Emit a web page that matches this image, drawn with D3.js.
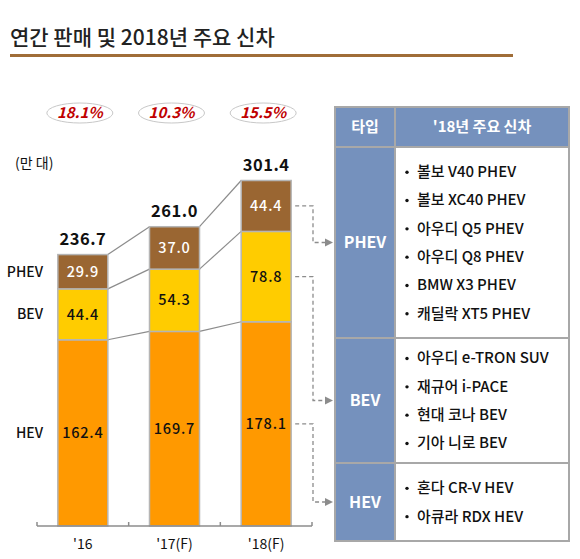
<!DOCTYPE html>
<html><head><meta charset="utf-8">
<script src="https://cdn.jsdelivr.net/npm/d3@7"></script>
<style>
html,body{margin:0;padding:0;background:#fff;}
svg{display:block;font-family:"Noto Sans CJK KR","Noto Sans",sans-serif;}
</style></head>
<body><svg id="c" width="580" height="559"></svg>
<script>
const title = "연간 판매 및 2018년 주요 신차";
const unitLabel = "(만 대)";
const categories = ["'16", "'17(F)", "'18(F)"];
const seriesNames = ["HEV", "BEV", "PHEV"];
const hevValues = [162.4, 169.7, 178.1];
const bevValues = [44.4, 54.3, 78.8];
const phevValues = [29.9, 37.0, 44.4];
const totals = ["236.7", "261.0", "301.4"];
const growthRates = ["18.1%", "10.3%", "15.5%"];
const tableHeaders = ["타입", "'18년 주요 신차"];
const phevModels = ["볼보 V40 PHEV", "볼보 XC40 PHEV", "아우디 Q5 PHEV", "아우디 Q8 PHEV", "BMW X3 PHEV", "캐딜락 XT5 PHEV"];
const bevModels = ["아우디 e-TRON SUV", "재규어 i-PACE", "현대 코나 BEV", "기아 니로 BEV"];
const hevModels = ["혼다 CR-V HEV", "아큐라 RDX HEV"];

(function () {
const colors = {HEV: "#ff9900", BEV: "#ffcc00", PHEV: "#9a6632"};
const labelColors = {HEV: "#111", BEV: "#111", PHEV: "#fff"};
const valuesBy = {HEV: hevValues, BEV: bevValues, PHEV: phevValues};

const svg = d3.select("#c");

// Title
svg.append("text").attr("x", 10).attr("y", 45).attr("font-size", 21).attr("font-weight", 500)
  .attr("fill", "#222").text(title);
svg.append("rect").attr("x", 10).attr("y", 54).attr("width", 503).attr("height", 3).attr("fill", "#a06d38");

// Scales
const x = d3.scaleBand().domain(categories).range([37, 312]).padding(0);
const barW = 50;
const y = d3.scaleLinear().domain([0, 300]).range([526, 182]);

const rowsData = categories.map((c, i) => {
  const o = {cat: c};
  seriesNames.forEach(s => o[s] = valuesBy[s][i]);
  return o;
});
const stack = d3.stack().keys(seriesNames)(rowsData);

const bx = c => x(c) + x.bandwidth() / 2 - barW / 2;

// Connecting lines between bars
stack.forEach(layer => {
  for (let i = 0; i < categories.length - 1; i++) {
    svg.append("line")
      .attr("x1", bx(categories[i]) + barW).attr("y1", y(layer[i][1]))
      .attr("x2", bx(categories[i + 1])).attr("y2", y(layer[i + 1][1]))
      .attr("stroke", "#8c8c8c").attr("stroke-width", 1.2);
  }
});

// Bars
stack.forEach(layer => {
  const key = layer.key;
  svg.append("g").selectAll("rect").data(layer).join("rect")
    .attr("x", (d, i) => bx(categories[i]))
    .attr("y", d => y(d[1]))
    .attr("width", barW)
    .attr("height", d => y(d[0]) - y(d[1]))
    .attr("fill", colors[key])
    .attr("stroke", "#b5b5b5").attr("stroke-width", 1.5);
  svg.append("g").selectAll("text").data(layer).join("text")
    .attr("x", (d, i) => bx(categories[i]) + barW / 2)
    .attr("y", d => (y(d[0]) + y(d[1])) / 2)
    .attr("dy", "0.36em")
    .attr("text-anchor", "middle").attr("font-size", 14.5).attr("font-weight", 500)
    .attr("letter-spacing", 0.8)
    .attr("fill", labelColors[key])
    .text((d, i) => valuesBy[key][i].toFixed(1));
});

// Totals
const topLayer = stack[stack.length - 1];
svg.append("g").selectAll("text").data(topLayer).join("text")
  .attr("x", (d, i) => bx(categories[i]) + barW / 2)
  .attr("y", d => y(d[1]) - 10)
  .attr("text-anchor", "middle").attr("font-size", 16.5).attr("font-weight", 700)
  .attr("letter-spacing", 0.5)
  .attr("fill", "#111").text((d, i) => totals[i]);

// Series labels on left aligned with first bar
stack.forEach(layer => {
  const d = layer[0];
  svg.append("text").attr("x", 43).attr("y", (y(d[0]) + y(d[1])) / 2).attr("dy", "0.36em")
    .attr("text-anchor", "end").attr("font-size", 14).attr("font-weight", 500).attr("fill", "#111")
    .text(layer.key);
});

svg.append("text").attr("x", 15).attr("y", 168).attr("font-size", 14).attr("fill", "#111").text(unitLabel);

// Growth ellipses
categories.forEach((c, i) => {
  const cx = x(c) + x.bandwidth() / 2 - 3;
  svg.append("ellipse").attr("cx", cx).attr("cy", 113).attr("rx", 33).attr("ry", 10)
    .attr("fill", "#fff").attr("stroke", "#c8c8c8").attr("stroke-width", 1);
  svg.append("text").attr("x", cx).attr("y", 113).attr("dy", "0.36em").attr("text-anchor", "middle")
    .attr("font-size", 15).attr("font-weight", 700).attr("font-style", "italic")
    .attr("fill", "#c00000").text(growthRates[i]);
});

// Axis
const axisY = 526;
const ax = svg.append("g").attr("stroke", "#8c8c8c").attr("stroke-width", 1.5);
ax.append("line").attr("x1", 37).attr("x2", 312).attr("y1", axisY).attr("y2", axisY);
const tickXs = categories.map(c => x(c)).concat([x(categories[categories.length - 1]) + x.bandwidth()]);
tickXs.forEach(t => ax.append("line").attr("x1", t).attr("x2", t).attr("y1", axisY - 4).attr("y2", axisY));
categories.forEach(c => {
  svg.append("text").attr("x", x(c) + x.bandwidth() / 2).attr("y", 549).attr("text-anchor", "middle")
    .attr("font-size", 14).attr("fill", "#111").text(c);
});

// Table
const tx0 = 335, tx1 = 395, tx2 = 569;
const headTop = 107, headBot = 147;
const rows = [
  {name: "PHEV", items: phevModels, h: 191},
  {name: "BEV", items: bevModels, h: 125},
  {name: "HEV", items: hevModels, h: 78}
];
const blue = "#7591bd", border = "#a8a8a8";
svg.append("rect").attr("x", tx0).attr("y", headTop).attr("width", tx2 - tx0).attr("height", headBot - headTop).attr("fill", blue);
svg.append("text").attr("x", (tx0 + tx1) / 2).attr("y", (headTop + headBot) / 2).attr("dy", "0.36em")
  .attr("text-anchor", "middle").attr("font-size", 15).attr("font-weight", 700).attr("fill", "#fff").text(tableHeaders[0]);
svg.append("text").attr("x", (tx1 + tx2) / 2).attr("y", (headTop + headBot) / 2).attr("dy", "0.36em")
  .attr("text-anchor", "middle").attr("font-size", 15).attr("font-weight", 700).attr("fill", "#fff").text(tableHeaders[1]);

let rowTop = headBot;
const step = 28.3;
const rowMids = {};
rows.forEach(r => {
  const bot = rowTop + r.h;
  svg.append("rect").attr("x", tx0).attr("y", rowTop).attr("width", tx1 - tx0).attr("height", r.h).attr("fill", blue);
  svg.append("rect").attr("x", tx1).attr("y", rowTop).attr("width", tx2 - tx1).attr("height", r.h).attr("fill", "#fff");
  const mid = (rowTop + bot) / 2;
  rowMids[r.name] = mid;
  svg.append("text").attr("x", (tx0 + tx1) / 2).attr("y", mid).attr("dy", "0.36em")
    .attr("text-anchor", "middle").attr("font-size", 16).attr("font-weight", 700).attr("fill", "#fff").text(r.name);
  const n = r.items.length;
  const first = mid - (n - 1) * step / 2;
  r.items.forEach((it, j) => {
    const yy = first + j * step;
    svg.append("circle").attr("cx", 407).attr("cy", yy + 0.5).attr("r", 1.7).attr("fill", "#111");
    svg.append("text").attr("x", 417).attr("y", yy).attr("dy", "0.36em").attr("font-size", 15)
      .attr("font-weight", 500).attr("fill", "#111").text(it);
  });
  rowTop = bot;
});
// table borders
const bg = svg.append("g").attr("stroke", border).attr("stroke-width", 2).attr("fill", "none");
bg.append("rect").attr("x", tx0).attr("y", headTop).attr("width", tx2 - tx0).attr("height", rowTop - headTop);
bg.append("line").attr("x1", tx1).attr("x2", tx1).attr("y1", headTop).attr("y2", rowTop);
let yy2 = headBot;
bg.append("line").attr("x1", tx0).attr("x2", tx2).attr("y1", yy2).attr("y2", yy2);
rows.slice(0, -1).forEach(r => { yy2 += r.h; bg.append("line").attr("x1", tx0).attr("x2", tx2).attr("y1", yy2).attr("y2", yy2); });

// Dashed connectors from last bar to table
const lastIdx = categories.length - 1;
const lastCat = categories[lastIdx];
const startX = bx(lastCat) + barW + 4, bendX = 313, tipX = 333;
stack.forEach(layer => {
  const d = layer[lastIdx];
  const sy = (y(d[0]) + y(d[1])) / 2;
  const ey = rowMids[layer.key];
  svg.append("path")
    .attr("d", `M${startX},${sy}H${bendX}V${ey}H${tipX - 7}`)
    .attr("fill", "none").attr("stroke", "#8c8c8c").attr("stroke-width", 1.3).attr("stroke-dasharray", "4,3");
  svg.append("path")
    .attr("d", `M${tipX},${ey}L${tipX - 8},${ey - 4}L${tipX - 8},${ey + 4}Z`)
    .attr("fill", "#8c8c8c");
});
})();
</script></body></html>
